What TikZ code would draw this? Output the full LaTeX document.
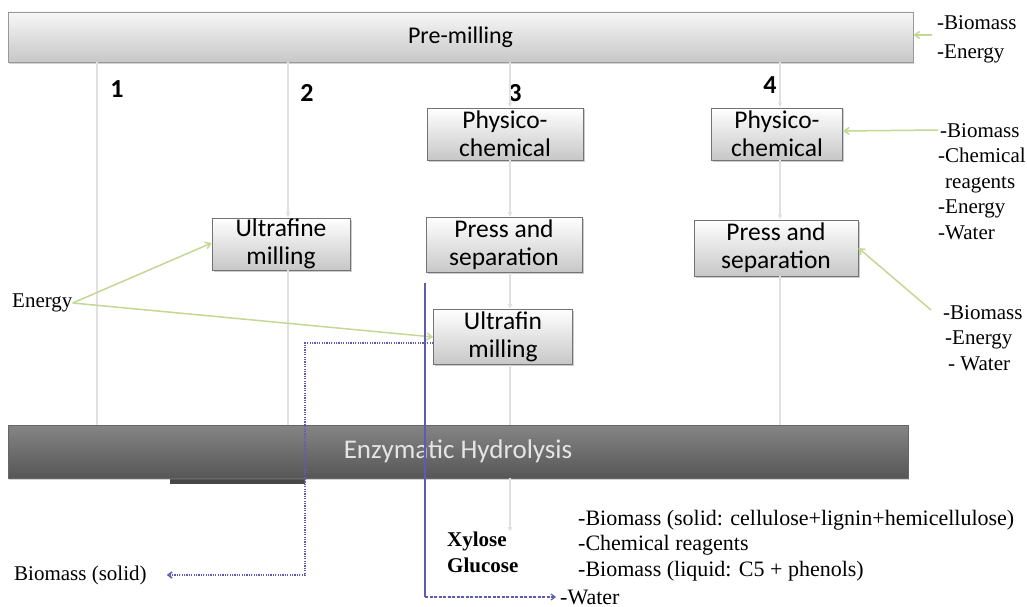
\documentclass[tikz,border=0pt]{standalone}
\usepackage{fontspec}
\setmainfont{Liberation Serif}
\newfontfamily\boxfont{Carlito}
\usetikzlibrary{arrows.meta,shadows}
\begin{document}
\begin{tikzpicture}[x=1pt,y=-1pt,
  lbox/.style={draw=black!55, line width=0.8pt, top color=white, bottom color=black!22,
    inner sep=0pt, align=center, font=\boxfont\fontsize{25.5}{28}\selectfont,
    drop shadow={shadow xshift=1.5pt,shadow yshift=-1.5pt,opacity=0.4}},
  num/.style={font=\boxfont\bfseries\fontsize{26}{28}\selectfont, inner sep=0pt},
  stxt/.style={font=\fontsize{21}{25.5}\selectfont, inner sep=0pt, align=left},
  flow/.style={draw=black!12, line width=1.6pt, -{Latex[length=5pt,width=5pt]}},
  flowline/.style={draw=black!12, line width=1.6pt},
  grn/.style={draw={rgb,255:red,196;green,216;blue,150}, line width=1.5pt, -{Straight Barb[length=5pt,width=7pt]}},
  bline/.style={draw={rgb,255:red,95;green,90;blue,180}, line width=1.2pt},
  bdash/.style={bline, dash pattern=on 3pt off 1.5pt, -{Straight Barb[length=4pt,width=6pt]}},
  bdot/.style={bline, line width=1.5pt, dash pattern=on 1.2pt off 1.2pt, -{Straight Barb[length=4pt,width=6pt]}}
]
\useasboundingbox (0,0) rectangle (1027,607);
\fill[white] (0,0) rectangle (1027,607);

% coordinates for the vertical flows
\coordinate (c1) at (97,0);
\coordinate (c2) at (288,0);
\coordinate (c3) at (510,0);
\coordinate (c4) at (780,0);

% bars
\node[draw=black!40, line width=0.8pt, top color=black!3, bottom color=black!22,
  minimum width=905pt, minimum height=50pt, inner sep=0pt,
  drop shadow={shadow xshift=1pt,shadow yshift=-2pt,opacity=0.35},
  font=\boxfont\fontsize{24}{26}\selectfont] (pm) at (460.5,37) {Pre-milling};
\fill[black!72] (170,476) rectangle (305,484);
\node[draw=black!60, line width=0.8pt, top color=black!48, bottom color=black!66,
  minimum width=900pt, minimum height=53pt, inner sep=0pt, text=black!10,
  drop shadow={shadow xshift=1pt,shadow yshift=-2pt,opacity=0.35},
  font=\boxfont\fontsize{27}{29}\selectfont] (hyd) at (458,451.5) {Enzymatic Hydrolysis};

% numbers
\node[num] (n1) at (117,89) {1};
\node[num] (n2) at (307,93) {2};
\node[num] (n3) at (515,93) {3};
\node[num] (n4) at (770,85) {4};

% boxes
\node[lbox, minimum width=156pt, minimum height=52pt] (ph3) at (505,134) {Physico-\\chemical};
\node[lbox, minimum width=131pt, minimum height=52pt] (ph4) at (777,134) {Physico-\\chemical};
\node[lbox, minimum width=138pt, minimum height=52pt] (uf) at (281,244) {Ultrafine\\milling};
\node[lbox, minimum width=156pt, minimum height=55pt] (ps3) at (504,245) {Press and\\separation};
\node[lbox, minimum width=164pt, minimum height=56pt] (ps4) at (776,248) {Press and\\separation};
\node[lbox, minimum width=139pt, minimum height=55pt] (ufm) at (503,337) {Ultrafin\\milling};

% gray vertical flows
\draw[flowline] (pm.south -| c1) -- (hyd.north -| c1);
\draw[flow] (pm.south -| c2) -- (uf.north -| c2);
\draw[flowline] (uf.south -| c2) -- (hyd.north -| c2);
\draw[flow] (pm.south -| c3) -- (ph3.north -| c3);
\draw[flow] (ph3.south -| c3) -- (ps3.north -| c3);
\draw[flow] (ps3.south -| c3) -- (ufm.north -| c3);
\draw[flowline] (ufm.south -| c3) -- (hyd.north -| c3);
\draw[flow] (pm.south -| c4) -- (ph4.north -| c4);
\draw[flow] (ph4.south -| c4) -- (ps4.north -| c4);
\draw[flowline] (ps4.south -| c4) -- (hyd.north -| c4);

% texts
\node[stxt, anchor=north west] (tin) at (937,15) {-Biomass\\[4pt]-Energy};
\node[stxt, anchor=north west] (rin1) at (938,123) {\hspace{2pt}-Biomass\\-Chemical\\\hspace{7pt}reagents\\-Energy\\-Water};
\node[stxt, anchor=north west] (rin2) at (943,305) {-Biomass\\\hspace{2pt}-Energy\\\hspace{5pt}- Water};
\node[stxt, anchor=west] (en) at (12,303) {Energy};
\node[stxt, anchor=west] (bsol) at (14,575) {Biomass (solid)};
\node[stxt, anchor=north west, font=\bfseries\fontsize{21}{26}\selectfont] (xg) at (447,532) {Xylose\\Glucose};
\node[stxt, anchor=north west, font=\fontsize{22}{25.5}\selectfont] (out) at (578,510) {-Biomass (solid: cellulose+lignin+hemicellulose)\\-Chemical reagents\\-Biomass (liquid: C5 + phenols)};
\node[stxt, anchor=west, font=\fontsize{22}{25.5}\selectfont] (water) at (560,597) {-Water};

\draw[flow] (hyd.south -| c3) -- (xg.north -| c3);

% green inputs
\coordinate (g0) at (932,35);
\draw[grn] (g0) -- (pm.east |- g0);
\draw[grn] ([yshift=-7pt]rin1.north west) -- ([yshift=3pt]ph4.east);
\draw[grn] ([xshift=-12pt,yshift=-5pt]rin2.north west) -- (ps4.east);
\draw[grn] (en.east) -- ([yshift=1pt]uf.west);
\draw[grn] (en.east) -- (ufm.west);

% blue outputs
\coordinate (bs) at (425,283);
\coordinate (bc) at (425,597);
\draw[bline] (bs) -- (bc);
\draw[bdash] (bc) -- ([xshift=-4pt]water.west);
\coordinate (dc) at (305,575);
\coordinate (bt) at ([xshift=20pt]bsol.east);
\draw[bdot] ([yshift=-6pt]ufm.west) -| (dc) -- (dc -| bt);
\end{tikzpicture}
\end{document}
